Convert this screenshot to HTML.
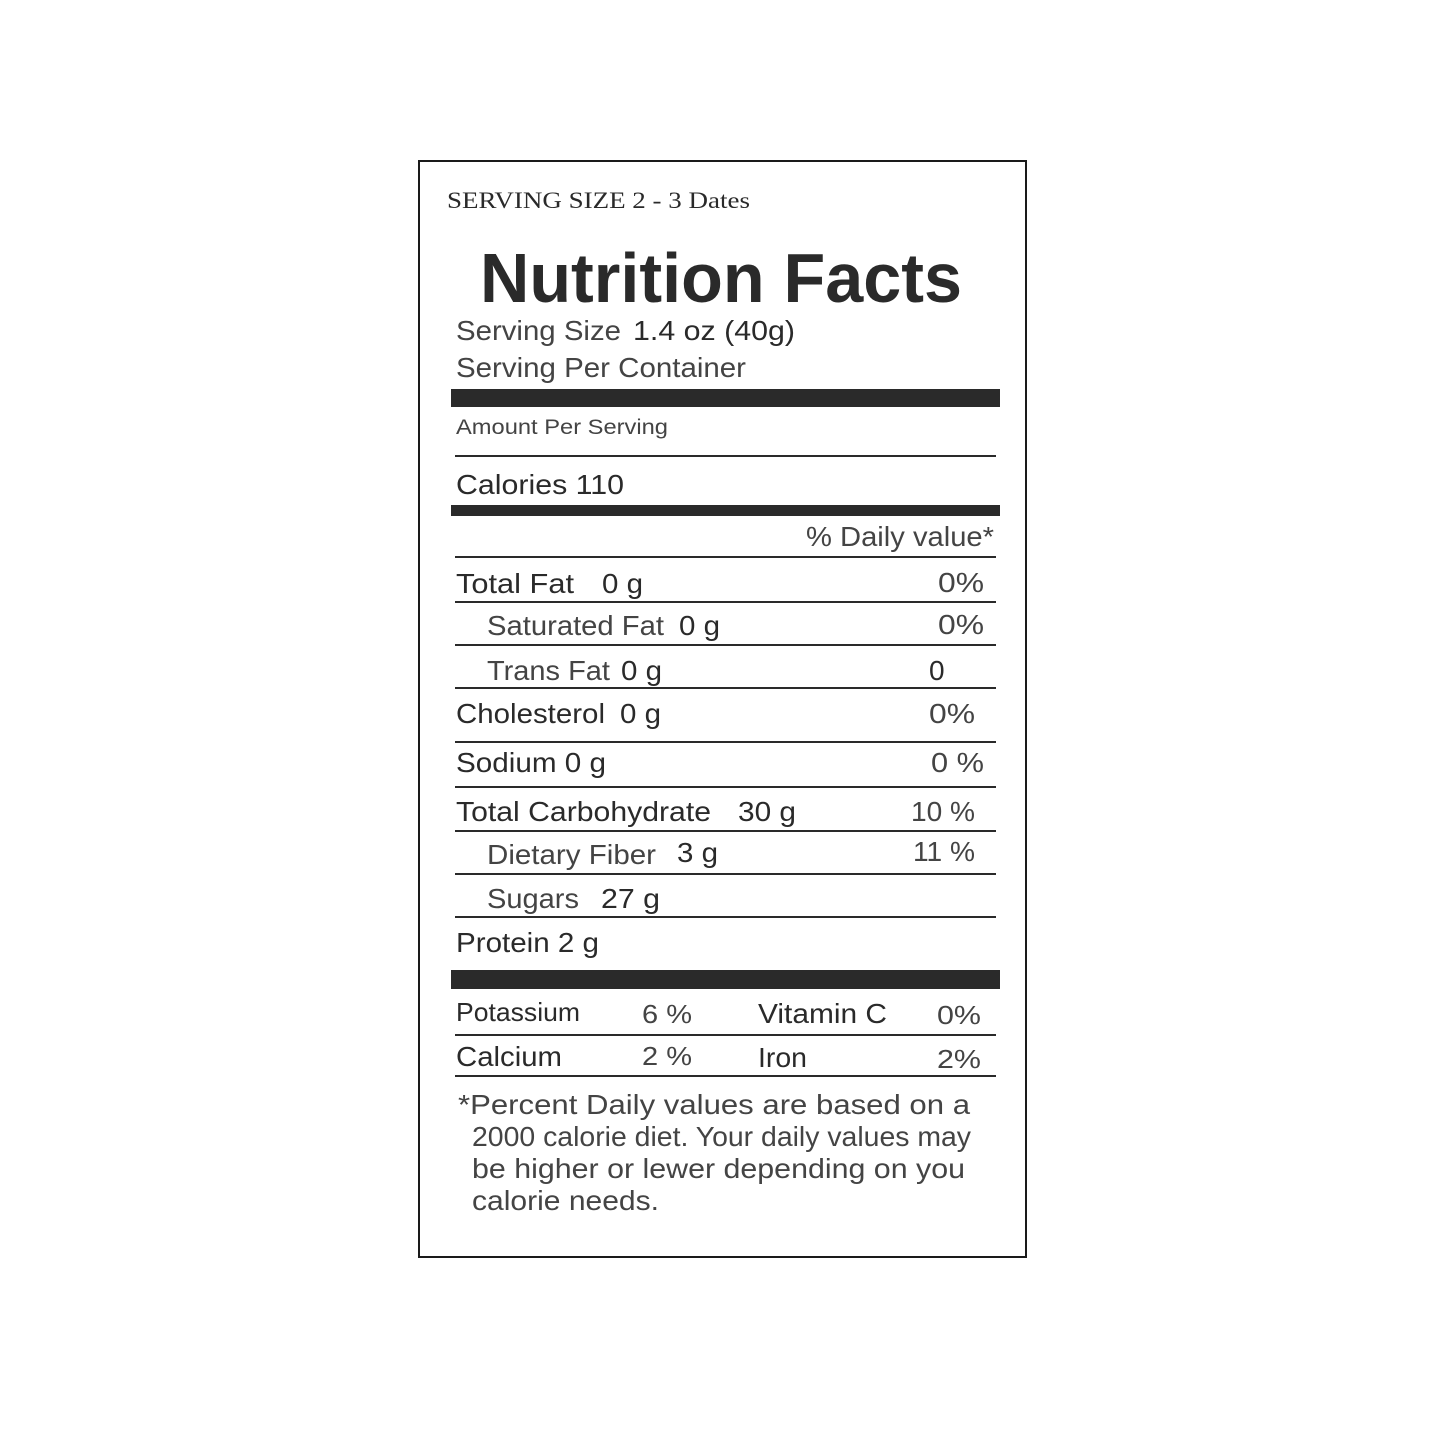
<!DOCTYPE html>
<html><head><meta charset="utf-8"><style>
html,body{margin:0;padding:0;background:#fff;}
svg{display:block;}
text{font-family:"Liberation Sans",sans-serif;fill:#2a2a2a;}
.r{font-size:28px;}
.l{fill:#444;}
</style></head><body>
<svg width="1445" height="1445" viewBox="0 0 1445 1445" xmlns="http://www.w3.org/2000/svg">
<rect x="0" y="0" width="1445" height="1445" fill="#fff"/>
<rect x="419" y="161" width="607" height="1096" fill="none" stroke="#1a1a1a" stroke-width="2"/>
<text x="447" y="208" style="font-family:'Liberation Serif',serif;font-size:23px" textLength="303" lengthAdjust="spacingAndGlyphs">SERVING SIZE 2 - 3 Dates</text>
<text x="480" y="302" style="font-size:70px;font-weight:bold" textLength="482" lengthAdjust="spacingAndGlyphs">Nutrition Facts</text>
<g class="r">
<text class="l" x="456" y="340" textLength="165" lengthAdjust="spacingAndGlyphs">Serving Size</text>
<text x="633" y="340" textLength="162" lengthAdjust="spacingAndGlyphs">1.4 oz (40g)</text>
<text class="l" x="456" y="377" textLength="290" lengthAdjust="spacingAndGlyphs">Serving Per Container</text>
</g>
<rect x="451" y="389" width="549" height="18" fill="#2a2a2a"/>
<text class="l" x="456" y="434" style="font-size:21px" textLength="212" lengthAdjust="spacingAndGlyphs">Amount Per Serving</text>
<g fill="#2a2a2a">
<rect x="455" y="455" width="541" height="2"/>
<rect x="451" y="505" width="549" height="11"/>
<rect x="455" y="556" width="541" height="2"/>
<rect x="455" y="601" width="541" height="2"/>
<rect x="455" y="644" width="541" height="2"/>
<rect x="455" y="687" width="541" height="2"/>
<rect x="455" y="741" width="541" height="2"/>
<rect x="455" y="786" width="541" height="2"/>
<rect x="455" y="830" width="541" height="2"/>
<rect x="455" y="873" width="541" height="2"/>
<rect x="455" y="916" width="541" height="2"/>
<rect x="451" y="970" width="549" height="19"/>
<rect x="455" y="1034" width="541" height="2"/>
<rect x="455" y="1075" width="541" height="2"/>
</g>
<g class="r">
<text x="456" y="494" textLength="168" lengthAdjust="spacingAndGlyphs">Calories 110</text>
<text class="l" x="806" y="546" textLength="188" lengthAdjust="spacingAndGlyphs">% Daily value*</text>

<text x="456" y="593" textLength="118" lengthAdjust="spacingAndGlyphs">Total Fat</text>
<text x="602" y="593" textLength="41" lengthAdjust="spacingAndGlyphs">0 g</text>
<text class="l" x="938" y="592" textLength="46" lengthAdjust="spacingAndGlyphs">0%</text>

<text class="l" x="487" y="635" textLength="177" lengthAdjust="spacingAndGlyphs">Saturated Fat</text>
<text x="679" y="635" textLength="41" lengthAdjust="spacingAndGlyphs">0 g</text>
<text class="l" x="938" y="634" textLength="46" lengthAdjust="spacingAndGlyphs">0%</text>

<text class="l" x="487" y="680" textLength="123" lengthAdjust="spacingAndGlyphs">Trans Fat</text>
<text x="621" y="680" textLength="41" lengthAdjust="spacingAndGlyphs">0 g</text>
<text x="929" y="680">0</text>

<text x="456" y="723" textLength="149" lengthAdjust="spacingAndGlyphs">Cholesterol</text>
<text x="620" y="723" textLength="41" lengthAdjust="spacingAndGlyphs">0 g</text>
<text class="l" x="929" y="723" textLength="46" lengthAdjust="spacingAndGlyphs">0%</text>

<text x="456" y="772" textLength="150" lengthAdjust="spacingAndGlyphs">Sodium 0 g</text>
<text class="l" x="931" y="772" textLength="53" lengthAdjust="spacingAndGlyphs">0 %</text>

<text x="456" y="821" textLength="255" lengthAdjust="spacingAndGlyphs">Total Carbohydrate</text>
<text x="738" y="821" textLength="58" lengthAdjust="spacingAndGlyphs">30 g</text>
<text class="l" x="911" y="821" textLength="64" lengthAdjust="spacingAndGlyphs">10 %</text>

<text class="l" x="487" y="864" textLength="169" lengthAdjust="spacingAndGlyphs">Dietary Fiber</text>
<text x="677" y="862" textLength="41" lengthAdjust="spacingAndGlyphs">3 g</text>
<text class="l" x="913" y="861" textLength="62" lengthAdjust="spacingAndGlyphs">11 %</text>

<text class="l" x="487" y="908" textLength="92" lengthAdjust="spacingAndGlyphs">Sugars</text>
<text x="601" y="908" textLength="59" lengthAdjust="spacingAndGlyphs">27 g</text>

<text x="456" y="952" textLength="143" lengthAdjust="spacingAndGlyphs">Protein 2 g</text>

<text x="456" y="1021" style="font-size:26px" textLength="124" lengthAdjust="spacingAndGlyphs">Potassium</text>
<text class="l" x="642" y="1023" style="font-size:26px" textLength="50" lengthAdjust="spacingAndGlyphs">6 %</text>
<text x="758" y="1023" textLength="129" lengthAdjust="spacingAndGlyphs">Vitamin C</text>
<text class="l" x="937" y="1024" style="font-size:26px" textLength="44" lengthAdjust="spacingAndGlyphs">0%</text>

<text x="456" y="1066" textLength="106" lengthAdjust="spacingAndGlyphs">Calcium</text>
<text class="l" x="642" y="1065" style="font-size:26px" textLength="50" lengthAdjust="spacingAndGlyphs">2 %</text>
<text x="758" y="1067" textLength="49" lengthAdjust="spacingAndGlyphs">Iron</text>
<text class="l" x="937" y="1068" style="font-size:26px" textLength="44" lengthAdjust="spacingAndGlyphs">2%</text>

<text class="l" x="458" y="1114" textLength="512" lengthAdjust="spacingAndGlyphs">*Percent Daily values are based on a</text>
<text class="l" x="472" y="1146" textLength="499" lengthAdjust="spacingAndGlyphs">2000 calorie diet. Your daily values may</text>
<text class="l" x="472" y="1178" textLength="493" lengthAdjust="spacingAndGlyphs">be higher or lewer depending on you</text>
<text class="l" x="472" y="1210" textLength="187" lengthAdjust="spacingAndGlyphs">calorie needs.</text>
</g>
</svg>
</body></html>
